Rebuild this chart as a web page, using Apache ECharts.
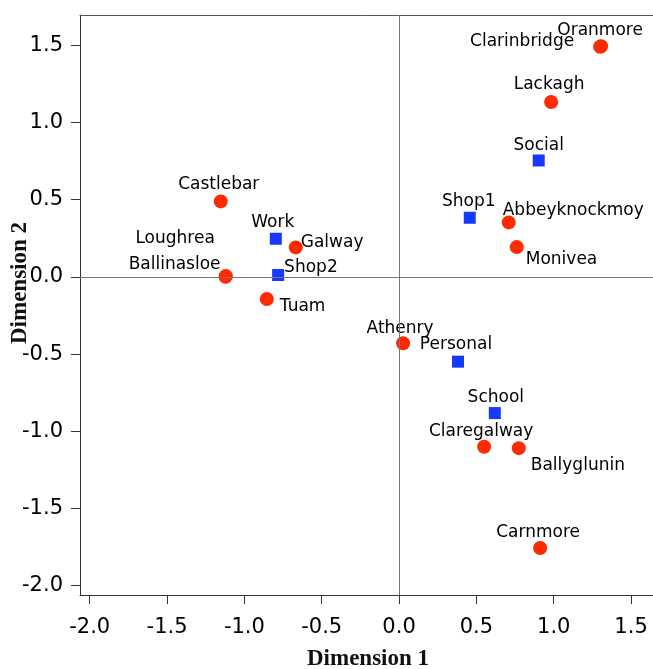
<!DOCTYPE html>
<html>
<head>
<meta charset="utf-8">
<script src="https://cdn.jsdelivr.net/npm/echarts@6/dist/echarts.min.js"></script>
<style>
html,body{margin:0;padding:0;background:#fff;overflow:hidden;}
#chart{width:653px;height:669px;}
</style>
</head>
<body>
<div id="chart"></div>
<script>
// ---- data ----
var townNames = ['Castlebar','Galway','Ballinasloe','Loughrea','Tuam','Oranmore','Clarinbridge','Lackagh','Abbeyknockmoy','Monivea','Athenry','Claregalway','Ballyglunin','Carnmore'];
var townX = [-1.153,-0.668,-1.122,-1.120,-0.855,1.306,1.300,0.983,0.709,0.761,0.026,0.550,0.774,0.912];
var townY = [0.489,0.191,0.001,0.005,-0.143,1.494,1.490,1.133,0.353,0.193,-0.430,-1.100,-1.109,-1.756];

var purposeNames = ['Work','Shop2','Shop1','Social','Personal','School'];
var purposeX = [-0.797,-0.782,0.457,0.903,0.381,0.619];
var purposeY = [0.247,0.012,0.383,0.754,-0.549,-0.882];

var tickValues = [-2.0,-1.5,-1.0,-0.5,0.0,0.5,1.0,1.5];

// ---- label placement (style only) ----
var labelPlace = {
  'Castlebar':['center',-2,-17],
  'Galway':['left',5,-5],
  'Ballinasloe':['right',-5,-12],
  'Loughrea':['right',-11,-38],
  'Tuam':['left',13,8],
  'Oranmore':['center',-1,-16],
  'Clarinbridge':['right',-26,-5],
  'Lackagh':['center',-2,-17],
  'Abbeyknockmoy':['left',-6,-12],
  'Monivea':['left',9,12],
  'Athenry':['center',-3,-15],
  'Claregalway':['center',-3,-15],
  'Ballyglunin':['left',12,17],
  'Carnmore':['center',-2,-15],
  'Work':['center',-3,-16],
  'Shop2':['left',6,-7],
  'Shop1':['center',-1,-16],
  'Social':['center',0,-15],
  'Personal':['center',-2,-17],
  'School':['center',1,-16]
};

function buildData(names, xs, ys){
  return names.map(function(n,i){
    var p = labelPlace[n];
    return {
      name:n,
      value:[xs[i], ys[i]],
      label:{show:true, formatter:n, position:'inside', align:p[0], verticalAlign:'middle', offset:[p[1],p[2]]}
    };
  });
}

var labelStyle = {fontFamily:'DejaVu Sans', fontSize:17, color:'#000'};

var chart = echarts.init(document.getElementById('chart'), null, {renderer:'canvas'});
var fmt = function(v){ return v.toFixed(1); };

chart.setOption({
  animation:false,
  backgroundColor:'#fff',
  grid:{left:80, top:15, width:582, height:580, outerBoundsMode:'none', containLabel:false, show:false},
  xAxis:[{
    type:'value', min:-2.063, max:1.700, position:'bottom',
    splitLine:{show:false},
    axisLine:{show:true, onZero:false, lineStyle:{color:'#333', width:1}},
    axisTick:{show:true, customValues:tickValues, length:9, lineStyle:{color:'#333'}},
    axisLabel:{customValues:tickValues, formatter:fmt, fontFamily:'DejaVu Sans', fontSize:21, color:'#000', margin:22}
  },{
    type:'value', min:-2.063, max:1.700, position:'top',
    splitLine:{show:false},
    axisLine:{show:true, onZero:false, lineStyle:{color:'#555', width:1}},
    axisTick:{show:false},
    axisLabel:{show:false}
  }],
  yAxis:{
    type:'value', min:-2.060, max:1.696,
    splitLine:{show:false},
    axisLine:{show:true, onZero:false, lineStyle:{color:'#333', width:1}},
    axisTick:{show:true, customValues:tickValues, length:9, lineStyle:{color:'#333'}},
    axisLabel:{customValues:tickValues, formatter:fmt, fontFamily:'DejaVu Sans', fontSize:21, color:'#000', margin:17}
  },
  graphic:[
    {type:'text', x:368, y:659, style:{text:'Dimension 1', font:'bold 23px "Liberation Serif"', fill:'#111', x:0, y:0, align:'center', verticalAlign:'middle'}},
    {type:'text', x:20, y:283, rotation:Math.PI/2, style:{text:'Dimension 2', font:'bold 23px "Liberation Serif"', fill:'#111', x:0, y:0, align:'center', verticalAlign:'middle'}}
  ],
  series:[
    {
      type:'scatter', name:'ref', data:[], silent:true,
      markLine:{silent:true, symbol:['none','none'], label:{show:false},
        lineStyle:{color:'#777', width:1, type:'solid'},
        data:[{xAxis:0},{yAxis:0}]}
    },
    {
      type:'scatter', name:'Towns', symbol:'circle', symbolSize:14,
      itemStyle:{color:'#ff2a00', opacity:1},
      label:labelStyle,
      data:buildData(townNames, townX, townY)
    },
    {
      type:'scatter', name:'Purposes', symbol:'rect', symbolSize:12,
      itemStyle:{color:'#1638ff', opacity:1},
      label:labelStyle,
      data:buildData(purposeNames, purposeX, purposeY)
    }
  ]
});
</script>
</body>
</html>
